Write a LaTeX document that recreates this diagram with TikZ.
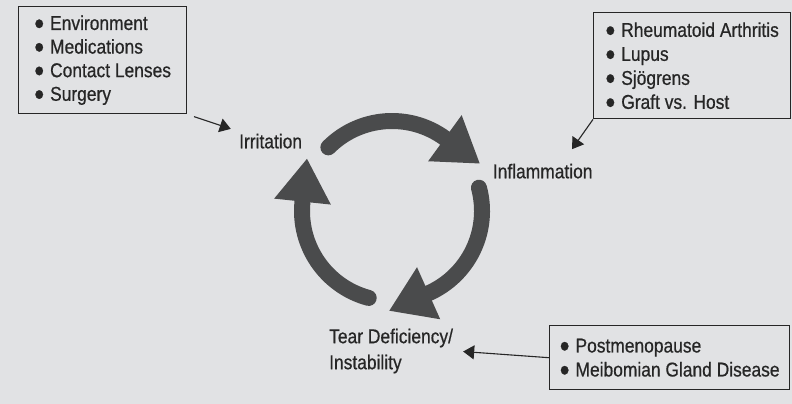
\documentclass[tikz,border=0pt]{standalone}
\usepackage{fontspec}
\setmainfont{Liberation Sans}[FakeStretch=0.87,FakeBold=0.6]
\usetikzlibrary{arrows.meta,calc}
\definecolor{backdrop}{HTML}{E1E2E4}
\definecolor{wheel}{HTML}{4A4B4C}
\definecolor{ink}{HTML}{262626}
\newcommand{\bul}{\raisebox{-4.4pt}[0pt][0pt]{\scalebox{1.6}{•}}\hspace{0.3em}}
\tikzset{
	factors/.style={draw=ink,line width=1.4pt,align=left,text=ink,font=\fontsize{20}{24}\selectfont,anchor=north west,inner xsep=0pt},
	stage/.style={text=ink,font=\fontsize{20}{26}\selectfont,align=left,inner sep=3pt},
	feeder/.style={draw=ink,line width=1.1pt,-{Triangle[length=11pt,width=14pt]}},
	wheelarc/.style={draw=wheel,line width=16pt,line cap=round,-{Triangle[length=43pt,width=57pt,line width=0pt]}}
}

\begin{document}
\begin{tikzpicture}[x=1pt,y=-1pt]
		\fill[backdrop] (0,0) rectangle (792,404);
		\useasboundingbox (0,0) rectangle (792,404);
		\coordinate (hub) at (392,211);
		\foreach \a in {-135,-15,105}{
			\draw[wheelarc] (hub) ++(\a:90) arc[start angle=\a,end angle=\a+81,radius=90] -- ++(\a+171:43);
		}
		\node[factors,minimum width=168pt,minimum height=107pt,font=\fontsize{20}{23.6}\selectfont] (irritants) at (18,6) {\bul Environment\\\bul Medications\\\bul Contact Lenses\\\bul Surgery};
		\node[factors,minimum width=197pt,minimum height=106pt] (autoimmune) at (593,12) {\bul Rheumatoid Arthritis\\\bul Lupus\\\bul Sjögrens\\\bul Graft vs. Host};
		\node[factors,minimum width=240pt,minimum height=64pt] (glands) at (549,325) {\bul Postmenopause\\\bul Meibomian Gland Disease};
		\node[stage,anchor=base west] (irritation) at (236,148.3) {Irritation};
		\node[stage,anchor=base west] (inflammation) at (489.7,178.3) {Inflammation};
		\node[stage,anchor=north west] (tearfilm) at (326,325.5) {Tear Deficiency/\\Instability};
		\draw[feeder,shorten <=7pt,shorten >=5.5pt] (irritants.south east) -- (irritation.north west);
		\draw[feeder,shorten >=14pt] (autoimmune.south west) -- ($(inflammation.north)!0.4!(inflammation.north east)$);
		\draw[feeder,shorten >=7pt] (glands.west) -- (tearfilm.east);
	\end{tikzpicture}
\end{document}
